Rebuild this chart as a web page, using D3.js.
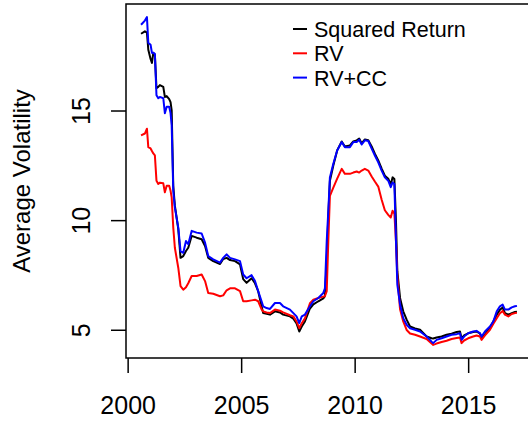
<!DOCTYPE html>
<html>
<head>
<meta charset="utf-8">
<script src="https://cdn.jsdelivr.net/npm/d3@7"></script>
<style>
	body { margin: 0; background: #fff; }
	svg { display: block; font-family: 'Liberation Sans', Arial, sans-serif; }
	.axis path, .axis line { stroke: #000; stroke-width: 1.5; }
	.axis text { fill: #000; font-size: 25px; }
	.series { fill: none; stroke-width: 2; stroke-linejoin: round; }
</style>
</head>
<body>
<svg width="528" height="423"></svg>
<script>
// decimal years shared by all three series
const years = [
	2000.59, 2000.76, 2000.85, 2000.91, 2001.01, 2001.07, 2001.13, 2001.20, 2001.27, 2001.35,
	2001.42, 2001.57, 2001.64, 2001.72, 2001.83, 2001.89, 2001.94, 2002.01, 2002.08, 2002.23,
	2002.33, 2002.45, 2002.57, 2002.67, 2002.82, 2003.04, 2003.26, 2003.41, 2003.55, 2003.77,
	2004.07, 2004.21, 2004.36, 2004.51, 2004.73, 2004.95, 2005.09, 2005.24, 2005.46, 2005.61,
	2005.75, 2005.90, 2005.97, 2006.12, 2006.27, 2006.49, 2006.71, 2006.85, 2007.15, 2007.30,
	2007.44, 2007.56, 2007.67, 2007.81, 2008.03, 2008.18, 2008.40, 2008.62, 2008.69, 2008.77,
	2008.84, 2008.91, 2009.06, 2009.23, 2009.43, 2009.57, 2009.79, 2009.94, 2010.09, 2010.20,
	2010.31, 2010.45, 2010.60, 2010.75, 2010.89, 2011.04, 2011.19, 2011.33, 2011.48, 2011.59,
	2011.67, 2011.75, 2011.82, 2011.88, 2012.00, 2012.14, 2012.29, 2012.44, 2012.66, 2012.88,
	2013.17, 2013.39, 2013.46, 2013.61, 2013.83, 2014.05, 2014.27, 2014.49, 2014.64, 2014.71,
	2014.82, 2015.00, 2015.22, 2015.37, 2015.52, 2015.59, 2015.74, 2015.96, 2016.11, 2016.26,
	2016.40, 2016.52, 2016.62, 2016.77, 2016.92, 2017.06, 2017.15
];

const squaredReturn = [
	18.50, 18.61, 18.55, 17.77, 17.35, 17.17, 17.63, 17.54, 16.02, 16.08,
	16.16, 16.08, 15.62, 15.66, 15.52, 15.38, 15.01, 11.57, 10.66, 9.60,
	8.28, 8.36, 8.59, 8.74, 9.28, 9.20, 9.13, 8.82, 8.28, 8.13,
	8.00, 8.23, 8.28, 8.18, 8.13, 7.98, 7.31, 7.14, 7.35, 7.12,
	6.76, 6.07, 5.76, 5.73, 5.69, 5.84, 5.79, 5.69, 5.61, 5.50,
	5.29, 4.92, 5.15, 5.38, 5.97, 6.16, 6.30, 6.43, 6.53, 8.13,
	10.20, 11.80, 12.49, 13.18, 13.59, 13.36, 13.41, 13.59, 13.64, 13.72,
	13.50, 13.68, 13.64, 13.36, 13.03, 12.72, 12.35, 12.03, 11.89, 11.62,
	11.95, 11.88, 9.97, 7.67, 6.45, 5.84, 5.46, 5.15, 5.06, 5.00,
	4.69, 4.61, 4.60, 4.65, 4.69, 4.77, 4.82, 4.90, 4.92, 4.61,
	4.74, 4.84, 4.90, 4.92, 4.83, 4.61, 4.79, 5.07, 5.38, 5.69,
	5.91, 6.02, 5.76, 5.69, 5.76, 5.81, 5.82
];

const rv = [
	13.87, 13.95, 14.17, 13.33, 13.27, 13.15, 13.04, 12.95, 11.80, 11.65,
	11.71, 11.68, 11.27, 11.57, 11.57, 11.34, 11.04, 9.66, 8.74, 7.83,
	6.99, 6.83, 6.94, 7.12, 7.45, 7.45, 7.52, 7.22, 6.68, 6.64,
	6.53, 6.57, 6.80, 6.89, 6.89, 6.76, 6.30, 6.30, 6.34, 6.37,
	6.30, 5.93, 5.84, 5.79, 5.76, 5.92, 5.87, 5.79, 5.66, 5.61,
	5.38, 5.07, 5.30, 5.52, 6.21, 6.37, 6.45, 6.51, 6.53, 6.76,
	9.05, 11.11, 11.48, 11.89, 12.34, 12.11, 12.11, 12.17, 12.22, 12.17,
	12.26, 12.34, 12.26, 11.99, 11.76, 11.53, 10.93, 10.45, 10.24, 10.12,
	10.43, 10.29, 9.05, 7.45, 5.93, 5.38, 4.99, 4.83, 4.77, 4.69,
	4.58, 4.37, 4.31, 4.37, 4.44, 4.50, 4.58, 4.62, 4.65, 4.39,
	4.51, 4.61, 4.69, 4.74, 4.69, 4.54, 4.74, 5.00, 5.27, 5.53,
	5.75, 5.86, 5.69, 5.61, 5.72, 5.76, 5.77
];

const rvcc = [
	18.91, 19.10, 19.26, 18.09, 18.00, 17.63, 17.63, 17.58, 15.70, 15.56,
	15.62, 15.56, 14.88, 15.17, 15.17, 14.88, 14.33, 11.34, 10.58, 9.66,
	8.59, 8.51, 9.05, 8.90, 9.51, 9.43, 9.39, 8.97, 8.36, 8.21,
	8.06, 8.28, 8.44, 8.28, 8.21, 8.13, 7.52, 7.35, 7.49, 7.22,
	6.76, 6.30, 6.07, 5.99, 5.95, 6.22, 6.22, 6.07, 5.92, 5.76,
	5.61, 5.30, 5.61, 5.69, 6.07, 6.30, 6.45, 6.68, 6.89, 9.05,
	10.43, 11.95, 12.57, 13.18, 13.56, 13.33, 13.33, 13.56, 13.56, 13.67,
	13.45, 13.64, 13.61, 13.26, 12.95, 12.64, 12.26, 11.95, 11.80, 11.50,
	11.72, 11.65, 9.05, 7.06, 6.15, 5.53, 5.23, 5.07, 5.00, 4.92,
	4.69, 4.46, 4.39, 4.54, 4.61, 4.69, 4.77, 4.80, 4.84, 4.54,
	4.69, 4.84, 4.92, 4.95, 4.84, 4.69, 4.92, 5.15, 5.38, 5.84,
	6.07, 6.15, 5.92, 5.92, 6.02, 6.07, 6.09
];

const seriesNames = ['Squared Return', 'RV', 'RV+CC'];
const seriesColors = ['#000000', '#ff0000', '#0000ff'];
const xTicks = [2000, 2005, 2010, 2015];
const yTicks = [5, 10, 15];

function init() {
	const svg = d3.select('svg');
	const box = {left: 126, right: 532, top: 4, bottom: 358};

	// R style 4% padding around the data range
	const pad = ext => {
		const r = ext[1] - ext[0];
		return [ext[0] - 0.04 * r, ext[1] + 0.04 * r];
	};
	const allValues = squaredReturn.concat(rv, rvcc);

	const x = d3.scaleLinear().domain(pad(d3.extent(years))).range([box.left, box.right]);
	const y = d3.scaleLinear().domain(pad(d3.extent(allValues))).range([box.bottom, box.top]);

	const line = d3.line()
		.x(d => x(d[0]))
		.y(d => y(d[1]));

	const seriesData = [squaredReturn, rv, rvcc].map(vals => {
		return years.map((yr, i) => [yr, vals[i]]);
	});

	svg.selectAll('.series')
		.data(seriesData)
		.enter()
		.append('path')
		.attr('class', 'series')
		.attr('stroke', (d, i) => seriesColors[i])
		.attr('d', line);

	// plot box
	svg.append('rect')
		.attr('x', box.left)
		.attr('y', box.top)
		.attr('width', box.right - box.left)
		.attr('height', box.bottom - box.top)
		.attr('fill', 'none')
		.attr('stroke', '#000')
		.attr('stroke-width', 1.5);

	const xAxis = svg.append('g')
		.attr('class', 'axis')
		.attr('transform', 'translate(0,' + box.bottom + ')')
		.call(d3.axisBottom(x).tickValues(xTicks).tickFormat(d3.format('d')).tickSize(15).tickSizeOuter(0));
	xAxis.select('.domain').remove();
	xAxis.selectAll('text')
		.attr('y', 56)
		.attr('dy', null);

	const yAxis = svg.append('g')
		.attr('class', 'axis')
		.attr('transform', 'translate(' + box.left + ',0)')
		.call(d3.axisLeft(y).tickValues(yTicks).tickSize(15).tickSizeOuter(0));
	yAxis.select('.domain').remove();
	yAxis.selectAll('text')
		.attr('x', null)
		.attr('dy', null)
		.attr('text-anchor', 'middle')
		.attr('transform', 'translate(-36,0) rotate(-90)');

	svg.append('text')
		.attr('transform', 'translate(30,' + ((box.top + box.bottom) / 2) + ') rotate(-90)')
		.attr('text-anchor', 'middle')
		.attr('font-size', 24)
		.text('Average Volatility');

	const legend = svg.append('g')
		.attr('transform', 'translate(293,37)');

	const item = legend.selectAll('g')
		.data(seriesNames)
		.enter()
		.append('g')
		.attr('transform', (d, i) => 'translate(0,' + (i * 24.3) + ')');

	item.append('line')
		.attr('x1', 0)
		.attr('x2', 14)
		.attr('y1', -8)
		.attr('y2', -8)
		.attr('stroke', (d, i) => seriesColors[i])
		.attr('stroke-width', 2);

	item.append('text')
		.attr('x', 21)
		.attr('font-size', 21.5)
		.text(d => d);
}

init();
</script>
</body>
</html>
